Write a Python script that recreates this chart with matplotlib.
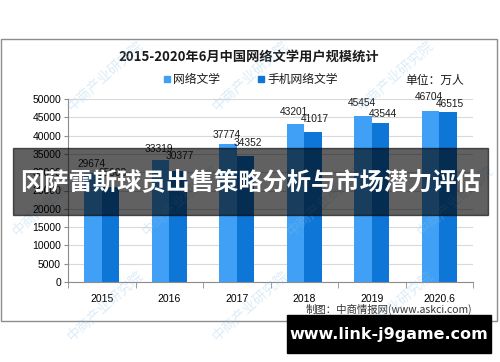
import numpy as np
import matplotlib
matplotlib.use('Agg')
import matplotlib.pyplot as plt
from matplotlib.patches import Rectangle

plt.rcParams['font.family'] = ['Noto Sans CJK SC', 'DejaVu Sans']

## DATA
years = ['2015', '2016', '2017', '2018', '2019', '2020.6']
web_lit = [29674, 33319, 37774, 43201, 45454, 46704]
mobile_lit = [25908, 30377, 34352, 41017, 43544, 46515]
series_names = ['网络文学', '手机网络文学']
yticks = np.arange(0, 50001, 5000)

c_light = '#3fa0f5'
c_dark = '#0e76d6'

# label lift above bar top (px), as placed in the original
lift_web = [9.5, 11, 9, 12, 13, 14]
lift_mob = [14, 15, 13, 13, 9, 8]

fig = plt.figure(figsize=(5.0, 3.62), dpi=100)
W, H = 500., 362.

def fx(px):
    return px / W

def fy(py):
    return 1 - py / H

## chart frame
fig.patches.append(Rectangle((fx(1), fy(321)), fx(497) - fx(1), fy(39) - fy(321),
                             transform=fig.transFigure, fill=False,
                             edgecolor='#8c8c8c', lw=1.0, zorder=0))

ax = fig.add_axes([fx(68), fy(282), fx(473) - fx(68), fy(99) - fy(282)])
x = np.arange(len(years))
w = 0.26
b1 = ax.bar(x - w / 2, web_lit, w, color=c_light, zorder=3)
b2 = ax.bar(x + w / 2, mobile_lit, w, color=c_dark, zorder=3)

for bars, vals, lifts, dx in [(b1, web_lit, lift_web, -1), (b2, mobile_lit, lift_mob, 1.5)]:
    for r, v, lf in zip(bars, vals, lifts):
        ax.annotate(str(v), (r.get_x() + r.get_width() / 2, v), xytext=(dx, lf * 0.72),
                    textcoords='offset points', ha='center', va='center',
                    fontsize=7.3, family='Liberation Sans', color='#1a1a1a', zorder=4)

ax.set_xlim(-0.5, len(years) - 0.5)
ax.set_ylim(0, 50000)
ax.set_yticks(yticks)
ax.set_yticklabels([str(t) for t in yticks], family='Liberation Sans', fontsize=7.5)
ax.set_xticks(x)
ax.set_xticklabels(years, family='Liberation Sans', fontsize=7.5)
ax.set_xticks(np.arange(-0.5, len(years)), minor=True)
ax.tick_params(axis='x', which='major', length=0, pad=9)
ax.tick_params(axis='x', which='minor', length=4, color='#8c8c8c')
ax.tick_params(axis='y', length=3, color='#8c8c8c', pad=2)
ax.grid(axis='y', color='#d9d9d9', lw=0.8, zorder=0)
for s in ['top', 'right']:
    ax.spines[s].set_visible(False)
for s in ['left', 'bottom']:
    ax.spines[s].set_color('#8c8c8c')

## title, legend, unit
fig.text(fx(249), fy(57), '2015-2020年6月中国网络文学用户规模统计', ha='center', va='center',
         fontsize=9.5, fontweight='bold', color='#1a1a1a')
for px, name, c in [(167, series_names[0], c_light), (261, series_names[1], c_dark)]:
    fig.patches.append(Rectangle((fx(px - 3), fy(82)), fx(6), 6 / H,
                                 transform=fig.transFigure, color=c))
    fig.text(fx(px + 6), fy(79), name, ha='left', va='center', fontsize=8.5, color='#1a1a1a')
fig.text(fx(405), fy(80), '单位：万人', ha='left', va='center', fontsize=8.5, color='#1a1a1a')
fig.text(fx(472), fy(309), '制图：中商情报网(www.askci.com)', ha='right', va='center',
         fontsize=7.5, color='#333333')

## faint watermarks
for wx, wy in [(105, 75), (250, 75), (395, 75), (50, 200), (180, 200), (325, 200),
               (455, 200), (105, 305), (250, 305), (395, 305)]:
    fig.text(fx(wx), fy(wy), '中商产业研究院', rotation=42, ha='center', va='center',
             fontsize=10, color='#8cc0e6', alpha=0.3)

## overlay banner
fig.patches.append(Rectangle((fx(13), fy(215)), fx(488) - fx(13), fy(148) - fy(215),
                             transform=fig.transFigure, color='black', alpha=0.62, zorder=10))
fig.text(fx(251), fy(182), '冈萨雷斯球员出售策略分析与市场潜力评估', ha='center', va='center',
         fontsize=17.5, fontweight='bold', color='white', zorder=11)

## bottom url box
fig.patches.append(Rectangle((fx(287), fy(353)), fx(491) - fx(287), fy(315) - fy(353),
                             transform=fig.transFigure, color='black', zorder=10))
fig.text(fx(389), fy(335), 'www.link-j9game.com', ha='center', va='center',
         fontsize=11.5, fontweight='bold', color='white', family='DejaVu Sans', zorder=11)

fig.savefig('out.png', dpi=100)
